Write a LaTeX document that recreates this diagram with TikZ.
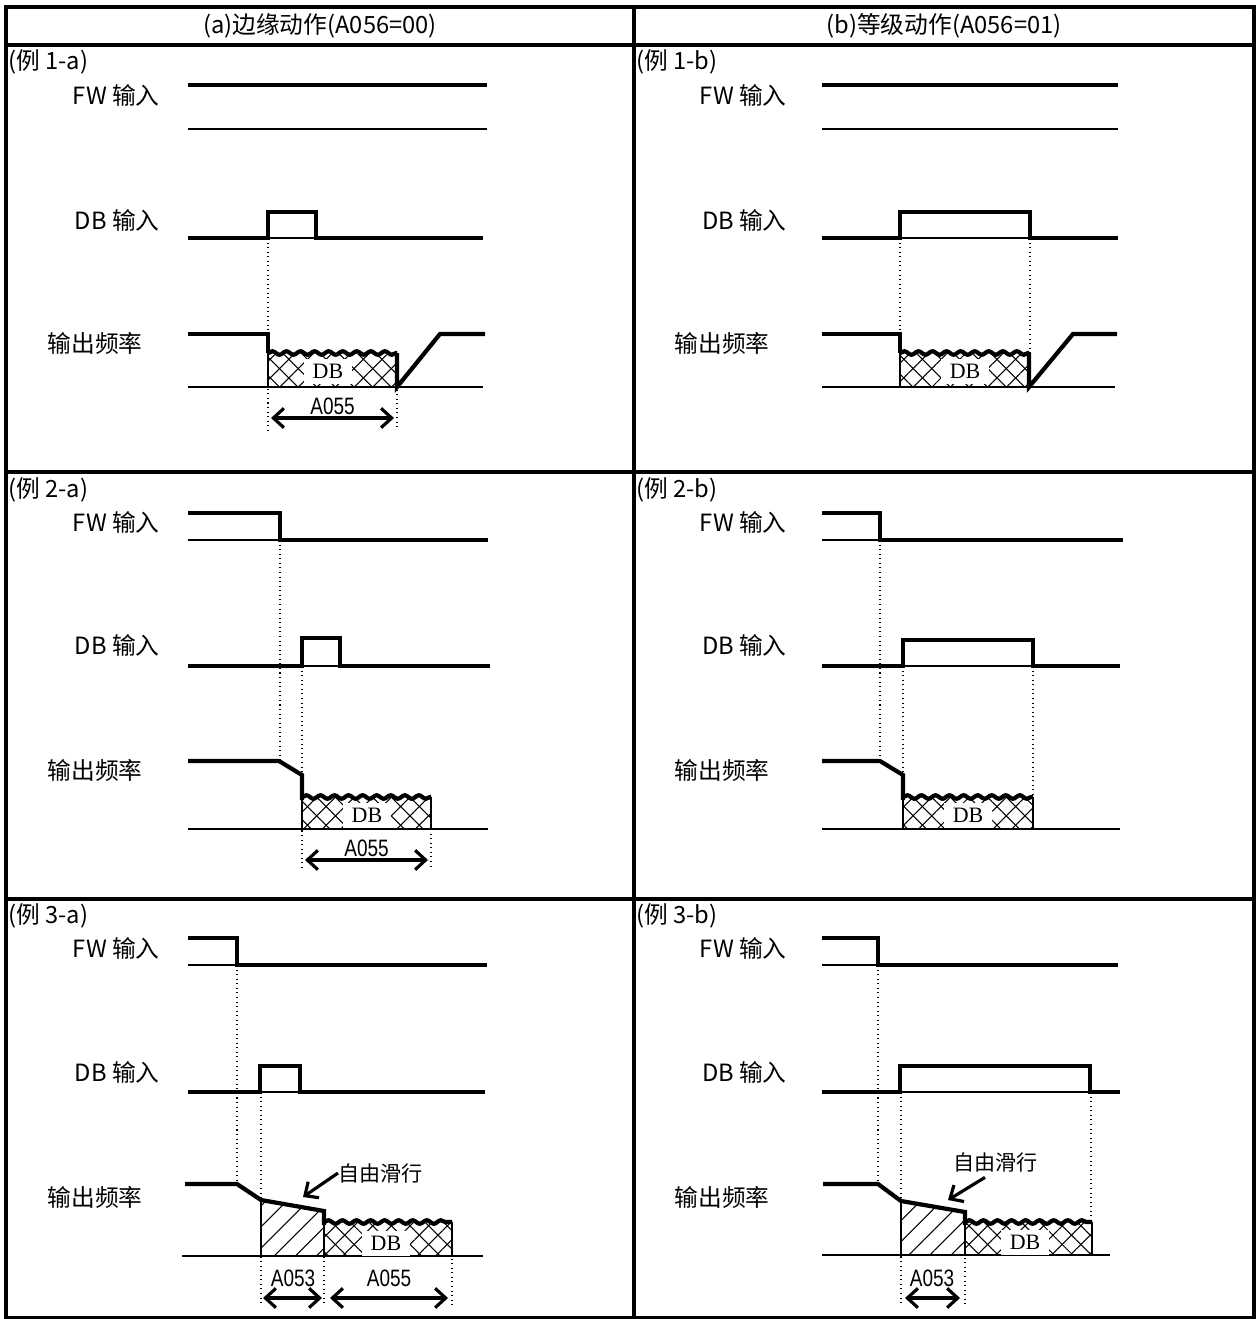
\documentclass[tikz,border=0pt]{standalone}
\usepackage{fontspec}
\setmainfont{Liberation Serif}
\newfontfamily\cjk{Noto Sans CJK SC}
\newfontfamily\numfont[FakeStretch=0.8]{Liberation Sans}
\usetikzlibrary{arrows.meta,patterns.meta,decorations.pathmorphing}

\begin{document}
\begin{tikzpicture}[x=0.02cm,y=-0.02cm,
    frame/.style={line width=2pt},
    sig/.style={line width=2.4pt},
    lvl/.style={line width=0.7pt},
    guide/.style={dotted,line width=0.6pt},
    wavy/.style={decorate,decoration={snake,amplitude=1pt,segment length=8pt}},
    xhatch/.style={pattern={Lines[angle=-45,distance=7.5pt,line width=0.6pt]},
      postaction={pattern={Lines[angle=45,distance=7.5pt,line width=0.6pt]}}},
    dhatch/.style={pattern={Lines[angle=45,distance=8.5pt,line width=0.6pt]}},
    dim/.style={line width=1.8pt,{Straight Barb[length=6pt,width=11pt]}-{Straight Barb[length=6pt,width=11pt]}},
    lbl/.style={font=\cjk\fontsize{13.5}{16}\selectfont,inner sep=0pt},
    coastlbl/.style={font=\cjk\fontsize{12}{14}\selectfont,inner sep=0pt},
    dblbl/.style={font=\fontsize{12.5}{14}\selectfont,fill=white,minimum width=0.95cm,minimum height=0.5cm,inner sep=0pt},
    numlbl/.style={font=\numfont\fontsize{13.5}{15}\selectfont,inner sep=1pt}]
  \useasboundingbox (0,0) rectangle (1255,1319);

  % table
  \draw[frame] (6,7) rectangle (1254,1318);
  \draw[frame] (634,7) -- (634,1318);
  \draw[frame] (6,45) -- (1254,45);
  \draw[frame] (6,472) -- (1254,472);
  \draw[frame] (6,899) -- (1254,899);
  \node[lbl] (heada) at (320,26) {(a)边缘动作(A056=00)};
  \node[lbl] (headb) at (944,26) {(b)等级动作(A056=01)};

  % ---- example 1-a ----
  \node[lbl,anchor=west] (ex1a) at (8,62) {(例 1-a)};
  \node[lbl,anchor=east] (fw1a) at (160,95) {FW 输入};
  \node[lbl,anchor=east] (db1a) at (160,220) {DB 输入};
  \node[lbl] (out1a) at (95,343) {输出频率};
  \draw[sig] (188,85) -- (487,85);
  \draw[lvl] (188,129) -- (487,129);
  \draw[lvl] (268,238) -- (316,238);
  \draw[sig] (188,238) -- (268,238) -- (268,212) -- (316,212) -- (316,238) -- (483,238);
  \draw[lvl] (188,387) -- (483,387);
  \fill[xhatch] (268,353) rectangle (397,387);
  \draw[lvl] (268,353) -- (268,387);
  \node[dblbl] (brake1a) at (328,371) {DB};
  \draw[sig] (188,334) -- (268,334) -- (268,353);
  \draw[sig,wavy] (268,353) -- (397,353);
  \draw[sig] (397,353) -- (397,387) -- (440,334) -- (485,334);
  \draw[guide] (268,238) -- (268,430);
  \draw[guide] (397,353) -- (397,430);
  \draw[dim] (271,418) -- node[numlbl,above] (t1a) {A055} (394,418);

  % ---- example 1-b ----
  \node[lbl,anchor=west] (ex1b) at (636,62) {(例 1-b)};
  \node[lbl,anchor=east] (fw1b) at (787,95) {FW 输入};
  \node[lbl,anchor=east] (db1b) at (787,220) {DB 输入};
  \node[lbl] (out1b) at (722,343) {输出频率};
  \draw[sig] (822,85) -- (1118,85);
  \draw[lvl] (822,129) -- (1118,129);
  \draw[lvl] (900,238) -- (1030,238);
  \draw[sig] (822,238) -- (900,238) -- (900,212) -- (1030,212) -- (1030,238) -- (1118,238);
  \draw[lvl] (822,387) -- (1115,387);
  \fill[xhatch] (900,353) rectangle (1029,387);
  \draw[lvl] (900,353) -- (900,387);
  \node[dblbl] (brake1b) at (965,371) {DB};
  \draw[sig] (822,334) -- (900,334) -- (900,353);
  \draw[sig,wavy] (900,353) -- (1029,353);
  \draw[sig] (1029,353) -- (1029,387) -- (1073,334) -- (1117,334);
  \draw[guide] (900,238) -- (900,353);
  \draw[guide] (1030,238) -- (1030,353);

  % ---- example 2-a ----
  \node[lbl,anchor=west] (ex2a) at (8,490) {(例 2-a)};
  \node[lbl,anchor=east] (fw2a) at (160,522) {FW 输入};
  \node[lbl,anchor=east] (db2a) at (160,645) {DB 输入};
  \node[lbl] (out2a) at (95,770) {输出频率};
  \draw[lvl] (188,540) -- (280,540);
  \draw[sig] (188,513) -- (280,513) -- (280,540) -- (488,540);
  \draw[lvl] (302,666) -- (340,666);
  \draw[sig] (188,666) -- (302,666) -- (302,638) -- (340,638) -- (340,666) -- (490,666);
  \draw[lvl] (188,829) -- (488,829);
  \fill[xhatch] (302,797) rectangle (431,829);
  \draw[lvl] (302,797) -- (302,829);
  \draw[lvl] (431,797) -- (431,829);
  \node[dblbl] (brake2a) at (367,815) {DB};
  \draw[sig] (188,761) -- (279,761) -- (302,775) -- (302,800);
  \draw[sig,wavy] (302,797) -- (431,797);
  \draw[guide] (280,540) -- (280,761);
  \draw[guide] (302,666) -- (302,870);
  \draw[guide] (431,797) -- (431,870);
  \draw[dim] (305,860) -- node[numlbl,above] (t2a) {A055} (428,860);

  % ---- example 2-b ----
  \node[lbl,anchor=west] (ex2b) at (636,490) {(例 2-b)};
  \node[lbl,anchor=east] (fw2b) at (787,522) {FW 输入};
  \node[lbl,anchor=east] (db2b) at (787,645) {DB 输入};
  \node[lbl] (out2b) at (722,770) {输出频率};
  \draw[lvl] (822,540) -- (880,540);
  \draw[sig] (822,513) -- (880,513) -- (880,540) -- (1123,540);
  \draw[lvl] (903,666) -- (1033,666);
  \draw[sig] (822,666) -- (903,666) -- (903,640) -- (1033,640) -- (1033,666) -- (1120,666);
  \draw[lvl] (822,829) -- (1120,829);
  \fill[xhatch] (903,797) rectangle (1033,829);
  \draw[lvl] (903,797) -- (903,829);
  \draw[lvl] (1033,797) -- (1033,829);
  \node[dblbl] (brake2b) at (968,815) {DB};
  \draw[sig] (822,761) -- (880,761) -- (903,775) -- (903,800);
  \draw[sig,wavy] (903,797) -- (1033,797);
  \draw[guide] (880,540) -- (880,761);
  \draw[guide] (903,666) -- (903,829);
  \draw[guide] (1033,666) -- (1033,797);

  % ---- example 3-a ----
  \node[lbl,anchor=west] (ex3a) at (8,916) {(例 3-a)};
  \node[lbl,anchor=east] (fw3a) at (160,948) {FW 输入};
  \node[lbl,anchor=east] (db3a) at (160,1072) {DB 输入};
  \node[lbl] (out3a) at (95,1197) {输出频率};
  \draw[lvl] (188,965) -- (237,965);
  \draw[sig] (188,938) -- (237,938) -- (237,965) -- (487,965);
  \draw[lvl] (260,1092) -- (300,1092);
  \draw[sig] (188,1092) -- (260,1092) -- (260,1066) -- (300,1066) -- (300,1092) -- (485,1092);
  \draw[lvl] (182,1256) -- (483,1256);
  \fill[dhatch] (261,1200) -- (324,1211) -- (324,1256) -- (261,1256) -- cycle;
  \fill[xhatch] (324,1222) rectangle (452,1256);
  \draw[lvl] (261,1200) -- (261,1256);
  \draw[lvl] (324,1222) -- (324,1256);
  \draw[lvl] (452,1222) -- (452,1256);
  \node[dblbl] (brake3a) at (386,1243) {DB};
  \draw[sig] (185,1184) -- (237,1184) -- (261,1200) -- (324,1211) -- (324,1225);
  \draw[sig,wavy] (324,1222) -- (452,1222);
  \draw[guide] (237,965) -- (237,1184);
  \draw[guide] (261,1092) -- (261,1305);
  \draw[guide] (324,1211) -- (324,1305);
  \draw[guide] (452,1222) -- (452,1305);
  \draw[dim] (263,1298) -- (322,1298);
  \node[numlbl] (t3a) at (293,1278) {A053};
  \draw[dim] (330,1298) -- (448,1298);
  \node[numlbl] (u3a) at (389,1278) {A055};
  \node[coastlbl,anchor=west] (coast3a) at (338,1173) {自由滑行};
  \coordinate (tip3a) at (303,1197);
  \draw[line width=1.8pt,-{Straight Barb[length=6pt,width=11pt]}] (coast3a.west) -- (tip3a);

  % ---- example 3-b ----
  \node[lbl,anchor=west] (ex3b) at (636,916) {(例 3-b)};
  \node[lbl,anchor=east] (fw3b) at (787,948) {FW 输入};
  \node[lbl,anchor=east] (db3b) at (787,1072) {DB 输入};
  \node[lbl] (out3b) at (722,1197) {输出频率};
  \draw[lvl] (822,965) -- (878,965);
  \draw[sig] (822,938) -- (878,938) -- (878,965) -- (1118,965);
  \draw[lvl] (900,1092) -- (1090,1092);
  \draw[sig] (822,1092) -- (900,1092) -- (900,1066) -- (1090,1066) -- (1090,1092) -- (1120,1092);
  \draw[lvl] (822,1255) -- (1110,1255);
  \fill[dhatch] (901,1201) -- (965,1212) -- (965,1255) -- (901,1255) -- cycle;
  \fill[xhatch] (965,1222) rectangle (1092,1255);
  \draw[lvl] (901,1201) -- (901,1255);
  \draw[lvl] (965,1222) -- (965,1255);
  \draw[lvl] (1092,1222) -- (1092,1255);
  \node[dblbl] (brake3b) at (1025,1242) {DB};
  \draw[sig] (823,1184) -- (878,1184) -- (901,1201) -- (965,1212) -- (965,1225);
  \draw[sig,wavy] (965,1222) -- (1092,1222);
  \draw[guide] (878,965) -- (878,1184);
  \draw[guide] (901,1092) -- (901,1305);
  \draw[guide] (965,1212) -- (965,1305);
  \draw[guide] (1091,1092) -- (1091,1222);
  \draw[dim] (905,1298) -- (960,1298);
  \node[numlbl] (t3b) at (932,1278) {A053};
  \node[coastlbl,anchor=west] (coast3b) at (953,1162) {自由滑行};
  \coordinate (tip3b) at (948,1200);
  \draw[line width=1.8pt,-{Straight Barb[length=6pt,width=11pt]}] ([xshift=-6pt,yshift=-3pt]coast3b.south) -- (tip3b);
\end{tikzpicture}
\end{document}
